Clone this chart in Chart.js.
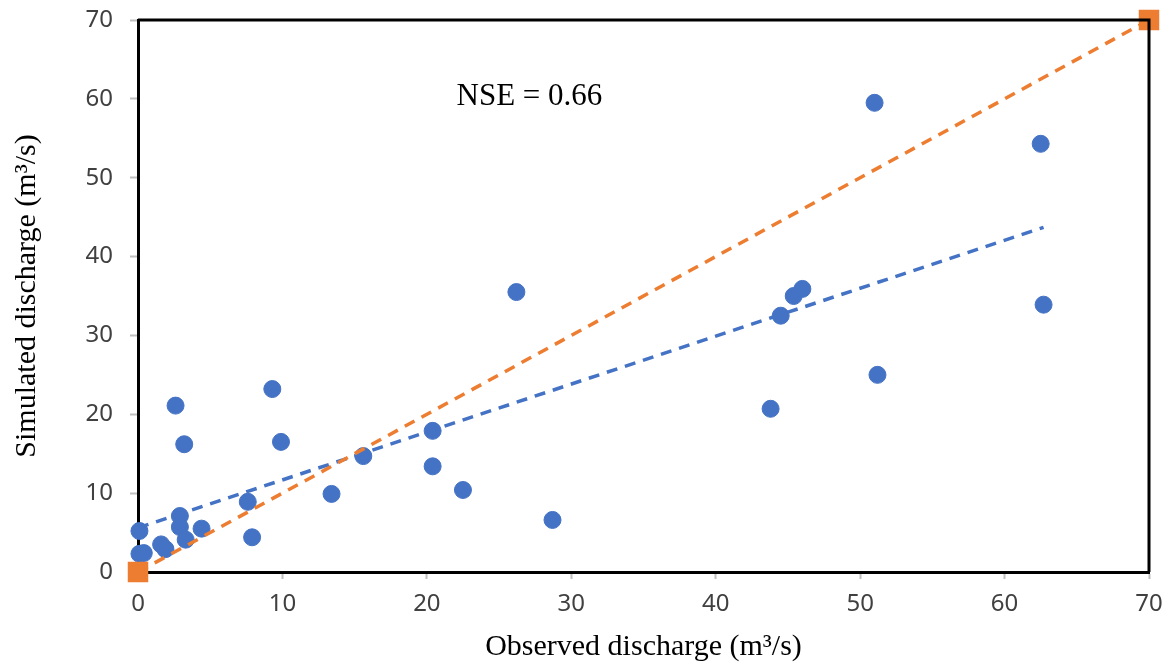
<!DOCTYPE html>
<html>
<head>
<meta charset="utf-8">
<script src="https://cdn.jsdelivr.net/npm/chart.js@4.4.0/dist/chart.umd.min.js"></script>
<style>
  html, body { margin: 0; padding: 0; background: #fff; }
  #wrap { width: 1172px; height: 667px; }
</style>
</head>
<body>
<div id="wrap"><canvas id="scatterChart" width="1172" height="667"></canvas></div>
<script>
// Observed vs simulated discharge (m3/s)
const observed = [0.1, 0.4, 0.1, 1.6, 1.9, 2.9, 2.9, 3.3, 4.4, 2.6, 3.2, 7.6, 7.9, 9.3, 9.9,
  13.4, 15.6, 20.4, 20.4, 22.5, 26.2, 28.7, 43.8, 44.5, 45.4, 46.0, 51.0, 51.2, 62.5, 62.7];
const simulated = [2.3, 2.4, 5.2, 3.5, 2.9, 7.1, 5.7, 4.1, 5.5, 21.1, 16.2, 8.9, 4.4, 23.2, 16.5,
  9.9, 14.7, 17.9, 13.4, 10.4, 35.5, 6.6, 20.7, 32.5, 35.0, 35.9, 59.5, 25.0, 54.3, 33.9];

// trend line and 1:1 line end points
const trendX = [0, 62.7];
const trendY = [5.6, 43.7];
const oneToOneX = [0, 70];
const oneToOneY = [0, 70];

const tickValues = [0, 10, 20, 30, 40, 50, 60, 70];

const blue = '#4472C4';
const orange = '#ED7D31';

function toPoints(xs, ys) {
    return xs.map((x, i) => ({ x: x, y: ys[i] }));
}

// black frame round the plot area and the NSE label
const framePlugin = {
    id: 'frame',
    afterDatasetsDraw(chart) {
        const { ctx, chartArea: a, scales } = chart;
        ctx.save();
        ctx.strokeStyle = '#000';
        ctx.lineWidth = 3;
        ctx.beginPath();
        ctx.moveTo(a.left, a.top);
        ctx.lineTo(a.right, a.top);
        ctx.lineTo(a.right, a.bottom);
        ctx.stroke();
        ctx.font = '31px "Liberation Serif", "Times New Roman", serif';
        ctx.fillStyle = '#000';
        ctx.textAlign = 'center';
        ctx.textBaseline = 'middle';
        ctx.fillText('NSE = 0.66', scales.x.getPixelForValue(27.1), scales.y.getPixelForValue(60.2));
        ctx.restore();
    }
};

const tickFont = { family: '"Noto Sans", "DejaVu Sans", sans-serif', size: 24 };
const titleFont = { family: '"Liberation Serif", "Times New Roman", serif', size: 30 };

const ctx = document.getElementById('scatterChart').getContext('2d');
const scatterChart = new Chart(ctx, {
    type: 'scatter',
    data: {
        datasets: [{
            label: '1:1 line',
            data: toPoints(oneToOneX, oneToOneY),
            showLine: true,
            borderColor: orange,
            backgroundColor: orange,
            borderWidth: 3.5,
            borderDash: [11, 8],
            pointStyle: 'rect',
            pointRadius: 12,
            order: 1,
            clip: false
        }, {
            label: 'Trend',
            data: toPoints(trendX, trendY),
            showLine: true,
            borderColor: blue,
            borderWidth: 3.5,
            borderDash: [11, 8],
            pointRadius: 0,
            order: 2,
            clip: false
        }, {
            label: 'Discharge',
            data: toPoints(observed, simulated),
            backgroundColor: blue,
            borderColor: blue,
            pointRadius: 8.5,
            order: 3,
            clip: false
        }]
    },
    options: {
        responsive: false,
        animation: false,
        layout: { padding: { top: 20, right: 23, left: 0, bottom: 0 } },
        plugins: {
            legend: { display: false },
            tooltip: { enabled: false }
        },
        scales: {
            x: {
                type: 'linear',
                min: 0,
                max: 70,
                afterBuildTicks: axis => { axis.ticks = tickValues.map(v => ({ value: v })); },
                afterFit: axis => { axis.height = 95; axis.paddingLeft = 0; axis.paddingRight = 0; },
                grid: { drawOnChartArea: false, drawTicks: true, tickLength: 7, tickColor: '#bfbfbf', tickWidth: 2 },
                border: { display: true, color: '#000', width: 3 },
                ticks: { font: tickFont, color: '#404040', padding: 11, maxRotation: 0 },
                title: { display: true, text: 'Observed discharge (m³/s)', font: titleFont, color: '#000', padding: { top: 2, bottom: 2 } }
            },
            y: {
                type: 'linear',
                min: 0,
                max: 70,
                afterBuildTicks: axis => { axis.ticks = tickValues.map(v => ({ value: v })); },
                afterFit: axis => { axis.width = 138; axis.paddingTop = 0; axis.paddingBottom = 0; },
                grid: { drawOnChartArea: false, drawTicks: true, tickLength: 8, tickColor: '#bfbfbf', tickWidth: 2 },
                border: { display: true, color: '#000', width: 3 },
                ticks: { font: tickFont, color: '#404040', padding: 17 },
                title: { display: true, text: 'Simulated discharge (m³/s)', font: titleFont, color: '#000', padding: { top: 9, bottom: 4 } }
            }
        }
    },
    plugins: [framePlugin]
});
</script>
</body>
</html>
